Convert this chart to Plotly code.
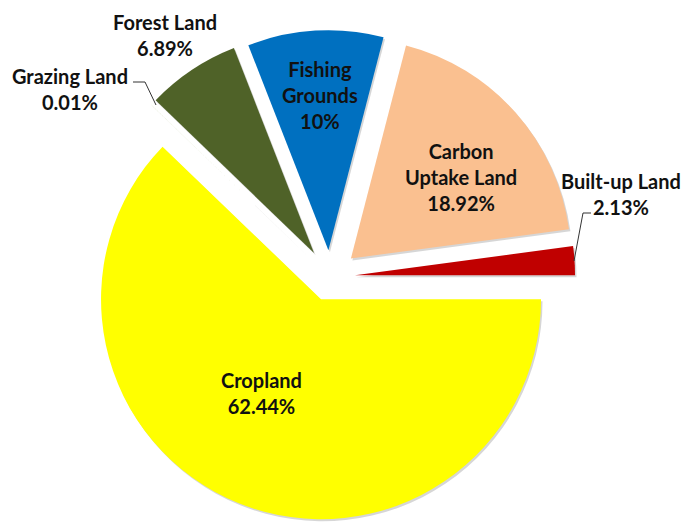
import numpy as np
import plotly.graph_objects as go

# ---- data ----
labels = ["Cropland", "Grazing Land", "Forest Land", "Fishing Grounds",
          "Carbon Uptake Land", "Built-up Land"]
values = [62.44, 0.01, 6.89, 10, 18.92, 2.13]
label_lines = ["Cropland", "Grazing Land", "Forest Land", "Fishing<br>Grounds",
               "Carbon<br>Uptake Land", "Built-up Land"]

# ---- style / layout ----
colors = ["#FFFF00", "#9BBB59", "#4F6228", "#0070C0", "#FAC090", "#C00000"]
pulls = [0.109, 0.13, 0.131, 0.122, 0.127, 0.114]
label_pos = [(261, 393), (70, 89), (165, 35), (320, 95), (461, 177), (621, 194)]

W, H = 683, 522
CX, CY, R = 330, 277, 220
SHX, SHY = 1.5, 2.0

fig = go.Figure()
total = sum(values)
start = 0.0
for i, v in enumerate(values):
    frac = v / total
    mid = (start + frac / 2) * 2 * np.pi  # clockwise from 3 o'clock
    start += frac
    cx = CX + pulls[i] * R * np.cos(mid)
    cy = CY + pulls[i] * R * np.sin(mid)
    for shadow in (True, False):
        ox, oy = (SHX, SHY) if shadow else (0.0, 0.0)
        x0 = (cx + ox - R) / W
        x1 = (cx + ox + R) / W
        y0 = 1 - (cy + oy + R) / H
        y1 = 1 - (cy + oy - R) / H
        if min(x0, y0) < 0 or max(x1, y1) > 1:
            continue
        cols = ["rgba(0,0,0,0)"] * len(values)
        cols[i] = "rgba(0,0,0,0.16)" if shadow else colors[i]
        fig.add_trace(go.Pie(
            values=values, labels=labels, sort=False, direction="clockwise",
            rotation=90, marker=dict(colors=cols, line=dict(width=0)),
            textinfo="none", hoverinfo="skip" if shadow else "label+percent",
            domain=dict(x=[x0, x1], y=[y0, y1]), showlegend=False))

annotations = []
for i, v in enumerate(values):
    px, py = label_pos[i]
    annotations.append(dict(
        x=px / W, y=1 - py / H, xref="paper", yref="paper",
        xanchor="center", yanchor="middle", showarrow=False,
        text=f"<b>{label_lines[i]}<br>{v:g}%</b>",
        font=dict(family="Lato", size=20, color="#111111")))


def path(pts):
    return "M " + " L ".join(f"{x / W},{1 - y / H}" for x, y in pts)


shapes = [
    dict(type="path", xref="paper", yref="paper",
         path=path([(133, 82), (145, 82), (156, 105)]),
         line=dict(color="#333333", width=1)),
    dict(type="path", xref="paper", yref="paper",
         path=path([(591, 213), (583, 213), (574, 261)]),
         line=dict(color="#333333", width=1)),
]

fig.update_layout(
    width=W, height=H, margin=dict(l=0, r=0, t=0, b=0),
    paper_bgcolor="white", plot_bgcolor="white", showlegend=False,
    annotations=annotations, shapes=shapes)

fig.write_html("out.html")
